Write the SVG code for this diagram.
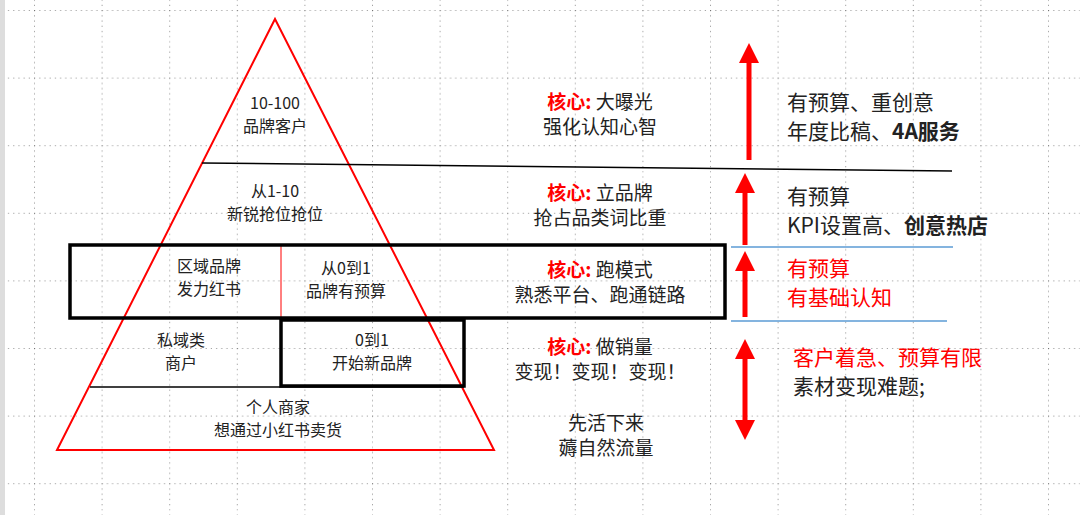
<svg xmlns="http://www.w3.org/2000/svg" width="1080" height="515" viewBox="0 0 1080 515">
<defs>
<pattern id="g" x="34" y="10" width="67.6" height="67.6" patternUnits="userSpaceOnUse">
<path d="M0 0H67.6M0 0V67.6" stroke="#444" stroke-width="1" stroke-dasharray="1.2 4" fill="none"/>
</pattern>
<marker id="ah" markerWidth="4" markerHeight="4" refX="2" refY="2" orient="auto-start-reverse" markerUnits="strokeWidth"><path d="M0 0L4 2L0 4Z" fill="#f00"/></marker>
</defs>
<style>
text{font-family:"Noto Sans CJK SC","Liberation Sans",sans-serif;font-size:19px;fill:#222;text-anchor:middle}
.s{font-size:16px}
.l{text-anchor:start;font-size:21px}
.r{fill:#f00}
.b{font-weight:bold}
.a{stroke:#f00;stroke-width:5;marker-end:url(#ah)}
</style>
<rect width="1080" height="515" fill="#fff"/>
<rect x="5" y="0" width="1075" height="515" fill="url(#g)"/>
<rect x="0" y="0" width="5" height="515" fill="#ddd"/>
<g id="pyramid">
<polygon points="275,19 57,450 494,450" fill="none" stroke="#f00" stroke-width="2"/>
<line x1="202" y1="163" x2="952" y2="171" stroke="#000" stroke-width="1.5"/>
<line x1="90" y1="387" x2="464" y2="387" stroke="#000" stroke-width="1.5"/>
<line x1="281" y1="246" x2="281" y2="318" stroke="#f00" stroke-width="1"/>
</g>
<g id="box1"><rect x="70" y="245" width="655" height="73" fill="none" stroke="#000" stroke-width="3.5"/></g>
<g id="box2"><rect x="281" y="320" width="183" height="66" fill="none" stroke="#000" stroke-width="3.5"/></g>
<g id="connectors">
<line x1="731" y1="247" x2="953" y2="247" stroke="#5b9bd5" stroke-width="1.5"/>
<line x1="731" y1="321" x2="947" y2="321" stroke="#5b9bd5" stroke-width="1.5"/>
<line class="a" x1="749" y1="160" x2="749" y2="53"/>
<line class="a" x1="745" y1="245" x2="745" y2="183"/>
<line class="a" x1="745" y1="317" x2="745" y2="261"/>
<line class="a" x1="745" y1="349" x2="745" y2="430" style="marker-start:url(#ah)"/>
</g>
<g id="t1"><text class="s" x="275" y="109">10-100</text><text class="s" x="275" y="132">品牌客户</text></g>
<g id="t2"><text class="s" x="275" y="197">从1-10</text><text class="s" x="275" y="220">新锐抢位抢位</text></g>
<g id="t3"><text class="s" x="209" y="272">区域品牌</text><text class="s" x="209" y="295">发力红书</text></g>
<g id="t4"><text class="s" x="346" y="274">从0到1</text><text class="s" x="346" y="297">品牌有预算</text></g>
<g id="t5"><text class="s" x="181" y="346">私域类</text><text class="s" x="181" y="369">商户</text></g>
<g id="t6"><text class="s" x="372" y="346">0到1</text><text class="s" x="372" y="369">开始新品牌</text></g>
<g id="t7"><text class="s" x="278" y="413">个人商家</text><text class="s" x="278" y="436">想通过小红书卖货</text></g>
<g id="c1"><text x="600" y="109"><tspan class="r b">核心:</tspan> 大曝光</text><text x="600" y="134">强化认知心智</text></g>
<g id="c2"><text x="600" y="200"><tspan class="r b">核心:</tspan> 立品牌</text><text x="600" y="225">抢占品类词比重</text></g>
<g id="c3"><text x="600" y="277"><tspan class="r b">核心:</tspan> 跑模式</text><text x="600" y="302">熟悉平台、跑通链路</text></g>
<g id="c4"><text x="600" y="354"><tspan class="r b">核心:</tspan> 做销量</text><text x="600" y="379">变现！变现！变现！</text></g>
<g id="c5"><text x="606" y="430">先活下来</text><text x="606" y="455">薅自然流量</text></g>
<g id="r1"><text class="l" x="787" y="110">有预算、重创意</text><text class="l" x="787" y="139">年度比稿、<tspan class="b">4A服务</tspan></text></g>
<g id="r2"><text class="l" x="787" y="204">有预算</text><text class="l" x="787" y="233">KPI设置高、<tspan class="b">创意热店</tspan></text></g>
<g id="r3"><text class="l r" x="787" y="276">有预算</text><text class="l r" x="787" y="305">有基础认知</text></g>
<g id="r4"><text class="l r" x="793" y="365">客户着急、预算有限</text><text class="l" x="793" y="394">素材变现难题;</text></g>
</svg>
